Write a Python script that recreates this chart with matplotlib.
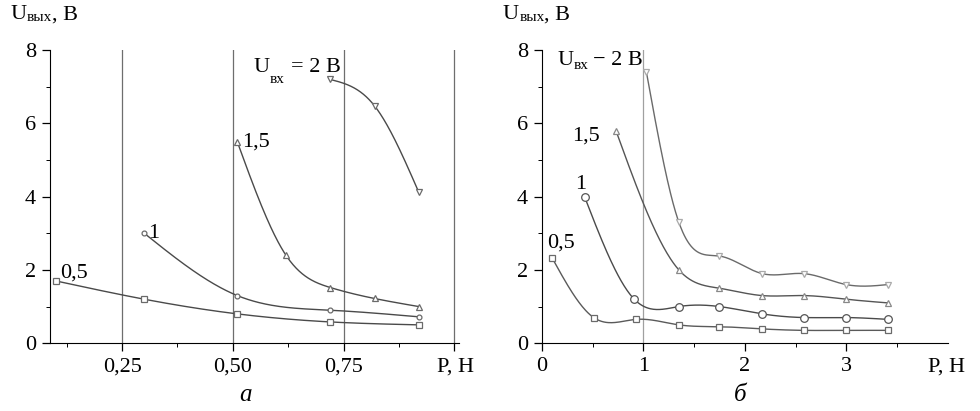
import numpy as np
import matplotlib.pyplot as plt
from matplotlib.ticker import FixedLocator, MultipleLocator

plt.rcParams['font.family'] = ['Liberation Serif', 'DejaVu Serif']

# ---- panel а ----
a_x05 = [0.10, 0.30, 0.51, 0.72, 0.92]
a_y05 = [1.70, 1.20, 0.80, 0.58, 0.50]
a_x1 = [0.30, 0.51, 0.72, 0.92]
a_y1 = [3.00, 1.30, 0.90, 0.72]
a_x15 = [0.51, 0.62, 0.72, 0.82, 0.92]
a_y15 = [5.50, 2.40, 1.52, 1.22, 1.00]
a_x2 = [0.72, 0.82, 0.92]
a_y2 = [7.20, 6.48, 4.12]
a_xticks = [0.25, 0.50, 0.75, 1.00]
a_xticklabels = ['0,25', '0,50', '0,75', '']

# ---- panel б ----
b_x05 = [0.10, 0.51, 0.93, 1.35, 1.75, 2.17, 2.58, 3.00, 3.41]
b_y05 = [2.33, 0.70, 0.65, 0.50, 0.45, 0.39, 0.35, 0.35, 0.35]
b_x1 = [0.42, 0.91, 1.35, 1.75, 2.17, 2.58, 3.00, 3.41]
b_y1 = [4.00, 1.20, 1.00, 1.00, 0.80, 0.70, 0.70, 0.65]
b_x15 = [0.73, 1.35, 1.75, 2.17, 2.58, 3.00, 3.41]
b_y15 = [5.80, 2.00, 1.50, 1.30, 1.30, 1.20, 1.10]
b_x2 = [1.03, 1.35, 1.75, 2.17, 2.58, 3.00, 3.41]
b_y2 = [7.40, 3.30, 2.38, 1.90, 1.90, 1.60, 1.60]
b_xticks = [0, 1, 2, 3]
b_xticklabels = ['0', '1', '2', '3']

yticks = [0, 2, 4, 6, 8]


def smooth(x, y, n=300):
    # natural cubic spline through the points, only for drawing the line
    x = np.asarray(x, float)
    y = np.asarray(y, float)
    k = len(x)
    h = np.diff(x)
    A = np.zeros((k, k))
    r = np.zeros(k)
    A[0, 0] = A[-1, -1] = 1
    for i in range(1, k - 1):
        A[i, i - 1] = h[i - 1]
        A[i, i] = 2 * (h[i - 1] + h[i])
        A[i, i + 1] = h[i]
        r[i] = 6 * ((y[i + 1] - y[i]) / h[i] - (y[i] - y[i - 1]) / h[i - 1])
    M = np.linalg.solve(A, r)
    xs = np.linspace(x[0], x[-1], n)
    j = np.clip(np.searchsorted(x, xs) - 1, 0, k - 2)
    t0 = x[j + 1] - xs
    t1 = xs - x[j]
    hj = h[j]
    ys = (M[j] * t0 ** 3 + M[j + 1] * t1 ** 3) / (6 * hj) \
        + (y[j] / hj - M[j] * hj / 6) * t0 + (y[j + 1] / hj - M[j + 1] * hj / 6) * t1
    return xs, ys


def curve(ax, x, y, marker, ms, lc='#4a4a4a', mc='#6a6a6a'):
    xs, ys = smooth(x, y)
    ax.plot(xs, ys, color=lc, lw=1.0, zorder=2)
    ax.plot(x, y, linestyle='none', marker=marker, ms=ms, mfc='white',
            mec=mc, mew=0.9, zorder=3)


def style(ax, xlim, xticks, xticklabels, minor):
    ax.set_ylim(0, 8)
    ax.set_xlim(*xlim)
    ax.spines['top'].set_visible(False)
    ax.spines['right'].set_visible(False)
    ax.set_yticks(yticks)
    ax.yaxis.set_minor_locator(MultipleLocator(1))
    ax.set_xticks(xticks)
    ax.set_xticklabels(xticklabels)
    ax.xaxis.set_minor_locator(FixedLocator(minor))
    ax.tick_params(which='major', direction='out', length=6, width=0.9,
                   labelsize=16, pad=4)
    ax.tick_params(which='minor', direction='out', length=3, width=0.7)


def ulabel(ax, x, y, sub, rest, sub_dx, sub_dy, rest_dx, coords='data'):
    # "U" with a lowered small subscript, then the rest of the label
    ax.annotate('U', (x, y), xycoords=coords, fontsize=16, va='baseline')
    ax.annotate(sub, (x, y), xycoords=coords, xytext=(sub_dx, sub_dy),
                textcoords='offset points', fontsize=11, va='baseline')
    ax.annotate(rest, (x, y), xycoords=coords, xytext=(rest_dx, 0),
                textcoords='offset points', fontsize=16, va='baseline')


fig = plt.figure(figsize=(9.8, 4.11), dpi=100)
ax1 = fig.add_axes([0.051, 0.165, 0.417, 0.713])
ax2 = fig.add_axes([0.553, 0.165, 0.414, 0.713])

# panel а
for xv in a_xticks:
    ax1.axvline(xv, color='#6e6e6e', lw=0.9, zorder=1)
curve(ax1, a_x05, a_y05, 's', 4.5)
curve(ax1, a_x1, a_y1, 'o', 3.5)
curve(ax1, a_x15, a_y15, '^', 3.8)
curve(ax1, a_x2, a_y2, 'v', 3.8)
style(ax1, (0.087, 1.01), a_xticks, a_xticklabels,
      [0.125, 0.375, 0.625, 0.875])
ax1.text(0.11, 1.80, '0,5', fontsize=16, va='baseline')
ax1.text(0.308, 2.87, '1', fontsize=16, va='baseline')
ax1.text(0.521, 5.36, '1,5', fontsize=16, va='baseline')
ulabel(ax1, 0.546, 7.4, 'вх', '= 2 В', 12, -8, 27)

# panel б
ax2.axvline(1, color='#a0a0a0', lw=0.9, zorder=1)
curve(ax2, b_x05, b_y05, 's', 4.5, lc='#5a5a5a')
curve(ax2, b_x1, b_y1, 'o', 5.5, lc='#4a4a4a', mc='#555555')
curve(ax2, b_x15, b_y15, '^', 5, lc='#555555', mc='#888888')
curve(ax2, b_x2, b_y2, 'v', 5, lc='#6a6a6a', mc='#aaaaaa')
style(ax2, (0, 4.0), b_xticks, b_xticklabels, [0.5, 1.5, 2.5, 3.5])
ax2.text(0.05, 2.6, '0,5', fontsize=16, va='baseline')
ax2.text(0.33, 4.22, '1', fontsize=16, va='baseline')
ax2.text(0.30, 5.53, '1,5', fontsize=16, va='baseline')
ulabel(ax2, 0.15, 7.59, 'вх', '− 2 В', 12, -3, 26)

# axis titles and panel letters
for ax, xl in ((ax1, 0.947), (ax2, 0.952)):
    ulabel(ax, -0.097, 1.105, 'вых', ', В', 12, -1, 30, coords='axes fraction')
    ax.text(xl, -0.05, 'P, Н', transform=ax.transAxes, fontsize=16, va='top')
fig.text(0.25, 0.025, 'а', fontsize=18, style='italic', ha='center')
fig.text(0.755, 0.025, 'б', fontsize=18, style='italic', ha='center')

fig.savefig('out.png', dpi=100)
